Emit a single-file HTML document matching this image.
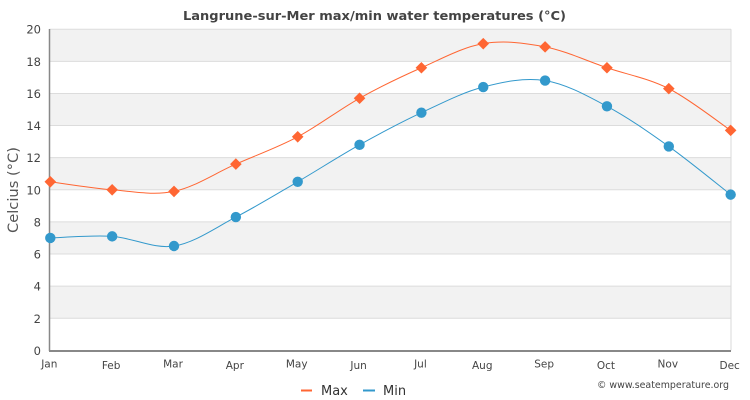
<!DOCTYPE html>
<html>
<head>
<meta charset="utf-8">
<style>
html,body{margin:0;padding:0;background:#fff;}
svg{display:block;font-family:"DejaVu Sans","Liberation Sans",sans-serif;}
</style>
</head>
<body>
<svg id="c" width="750" height="400" viewBox="0 0 750 400" xmlns="http://www.w3.org/2000/svg">
<rect x="0" y="0" width="750" height="400" fill="#fff"/>
<g id="bands"></g>
<g id="grid"></g>
<line x1="731" y1="29.3" x2="731" y2="350.4" stroke="#d8d8d8" stroke-width="1"/>
<line x1="49.5" y1="29" x2="49.5" y2="351" stroke="#888" stroke-width="1.5"/>
<line x1="49" y1="351" x2="731" y2="351" stroke="#888" stroke-width="2"/>
<g id="ylabels" font-size="11.5" fill="#444" text-anchor="end"></g>
<g id="xlabels" font-size="10.5" fill="#444" text-anchor="middle"></g>
<text x="374.5" y="20" font-size="12.5" font-weight="bold" fill="#444" text-anchor="middle" textLength="383" lengthAdjust="spacingAndGlyphs">Langrune-sur-Mer max/min water temperatures (°C)</text>
<text transform="translate(18,190) rotate(-90)" font-size="14.5" fill="#555" text-anchor="middle" textLength="86" lengthAdjust="spacingAndGlyphs">Celcius (°C)</text>
<g id="series"></g>
<line x1="301" y1="390.5" x2="312" y2="390.5" stroke="#ff6633" stroke-width="2"/>
<text x="321" y="395" font-size="13" fill="#333">Max</text>
<line x1="363" y1="390.5" x2="375" y2="390.5" stroke="#3399cc" stroke-width="2"/>
<text x="383" y="395" font-size="13" fill="#333">Min</text>
<text x="597" y="388" font-size="9.5" fill="#444" textLength="132" lengthAdjust="spacingAndGlyphs">© www.seatemperature.org</text>
</svg>
<script>
(function(){
var NS="http://www.w3.org/2000/svg";
function el(tag,attrs,parent,txt){var e=document.createElementNS(NS,tag);for(var k in attrs)e.setAttribute(k,attrs[k]);if(txt!==undefined)e.textContent=txt;parent.appendChild(e);return e;}
function Y(v){return 350.4-v*16.06;}
function X(i){return 50.3+i*61.85;}
var bands=document.getElementById('bands'),grid=document.getElementById('grid');
[[18,20],[14,16],[10,12],[6,8],[2,4]].forEach(function(b){
 el('rect',{x:49.5,y:Y(b[1]),width:681.5,height:Y(b[0])-Y(b[1]),fill:'#f2f2f2'},bands);
});
var yl=document.getElementById('ylabels');
for(var v=0;v<=20;v+=2){
 if(v>0) el('line',{x1:49.5,y1:Y(v),x2:731,y2:Y(v),stroke:'#dcdcdc','stroke-width':1},grid);
 el('text',{x:41,y:Y(v)+4.5},yl,String(v));
}
var months=['Jan','Feb','Mar','Apr','May','Jun','Jul','Aug','Sep','Oct','Nov','Dec'];
var xl=document.getElementById('xlabels');
months.forEach(function(m,i){
 var dy=(i%2==1)?369:367.5;
 el('text',{x:X(i)-1,y:dy},xl,m);
});
var maxD=[10.5,10.0,9.9,11.6,13.3,15.7,17.6,19.1,18.9,17.6,16.3,13.7];
var minD=[7.0,7.1,6.5,8.3,10.5,12.8,14.8,16.4,16.8,15.2,12.7,9.7];
function spline(data){
 var pts=data.map(function(v,i){return {x:X(i),y:Y(v)};});
 var n=pts.length,d='M '+pts[0].x+' '+pts[0].y;
 for(var i=0;i<n-1;i++){
  var p0=pts[i>0?i-1:0],p1=pts[i],p2=pts[i+1],p3=pts[i+2<n?i+2:n-1];
  var c1x=p1.x+(p2.x-p0.x)/6,c1y=p1.y+(p2.y-p0.y)/6;
  var c2x=p2.x-(p3.x-p1.x)/6,c2y=p2.y-(p3.y-p1.y)/6;
  d+=' C '+c1x+' '+c1y+' '+c2x+' '+c2y+' '+p2.x+' '+p2.y;
 }
 return {d:d,pts:pts};
}
var s=document.getElementById('series');
var mx=spline(maxD),mn=spline(minD);
el('path',{d:mx.d,fill:'none',stroke:'#ff6633','stroke-width':1},s);
el('path',{d:mn.d,fill:'none',stroke:'#3399cc','stroke-width':1},s);
mx.pts.forEach(function(p){
 var r=5.8;
 el('path',{d:'M '+p.x+' '+(p.y-r)+' L '+(p.x+r)+' '+p.y+' L '+p.x+' '+(p.y+r)+' L '+(p.x-r)+' '+p.y+' Z',fill:'#ff6633'},s);
});
mn.pts.forEach(function(p){
 el('circle',{cx:p.x,cy:p.y,r:5.2,fill:'#3399cc'},s);
});
})();
</script>
</body>
</html>
